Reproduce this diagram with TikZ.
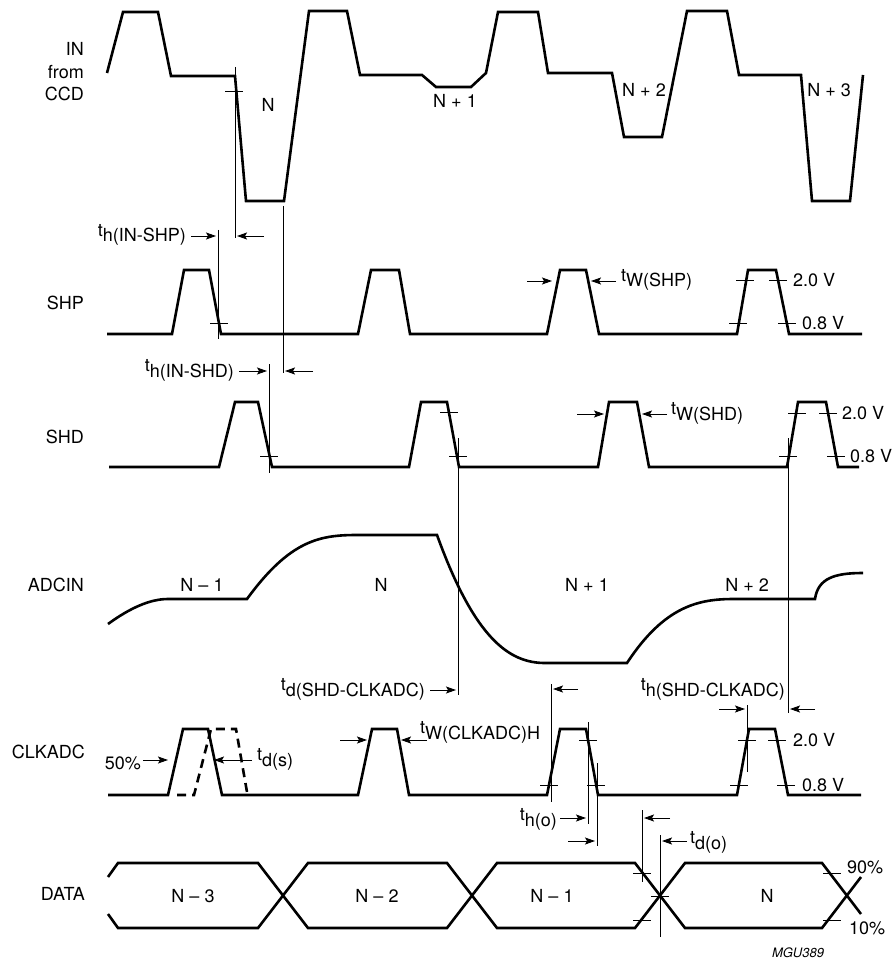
\documentclass[tikz,border=0pt]{standalone}
\usepackage{fontspec}
\setmainfont{TeX Gyre Heros}
\usetikzlibrary{arrows.meta}
\newcommand{\tlab}[1]{\raisebox{5.5pt}{t}#1}
\begin{document}
\begin{tikzpicture}
    [x=1pt,y=-1pt,
     wave/.style={line width=2.6pt,line join=miter},
     guide/.style={line width=0.8pt},
     dim/.style={->,>={Stealth[length=10pt,width=7pt,inset=2pt]},line width=0.9pt},
     every node/.style={font=\fontsize{18}{22.5}\selectfont,inner sep=0pt}]
    \useasboundingbox (0,0) rectangle (894,965);
    \node (in) [anchor=east,align=right] at (84,72) {IN\\from\\CCD};
    \node (shp) [anchor=east] at (84,303) {SHP};
    \node (shd) [anchor=east] at (84,437) {SHD};
    \node (adcin) [anchor=east] at (84,585) {ADCIN};
    \node (clk) [anchor=east] at (85,752) {CLKADC};
    \node (data) [anchor=east] at (85,894) {DATA};
    \draw [wave] (107,73) -- (123,12) -- (158,12) -- (171,76) -- (235,76) -- (246,201)
      -- (284,201) -- (309,11) -- (347,11) -- (360,75) -- (422,75) -- (436,87) -- (471,87)
      -- (486,73) -- (498,12) -- (538,12) -- (548,73) -- (612,73) -- (624,137) -- (662,137)
      -- (687,11) -- (727,11) -- (739,75) -- (801,75) -- (812,201) -- (850,201) -- (863,75);
    \draw [wave] (107,334) -- (172,334) -- (184,270) -- (209,270) -- (221,334) -- (358,334)
      -- (371,270) -- (399,270) -- (410,334) -- (547,334) -- (560,270) -- (586,270) -- (599,334)
      -- (737,334) -- (748,270) -- (776,270) -- (789,334) -- (862,334);
    \draw [wave] (109,467) -- (219,467) -- (235,402) -- (258,402) -- (272,467) -- (409,467)
      -- (421,402) -- (447,402) -- (459,467) -- (598,467) -- (609,402) -- (637,402) -- (649,467)
      -- (787,467) -- (798,402) -- (826,402) -- (838,467) -- (859,467);
    \draw [wave] (108,624) .. controls (130,608) and (150,599) .. (168,599) -- (247,599)
      .. controls (290,540) and (320,535) .. (357,535) -- (437,535)
      .. controls (475,640) and (510,663) .. (545,663) -- (627,663)
      .. controls (665,605) and (700,599) .. (734,599) -- (815,599)
      .. controls (818,578) and (835,573) .. (863,573);
    \draw [wave] (108,795) -- (168,795) -- (183,729) -- (208,729) -- (222,795) -- (358,795)
      -- (372,729) -- (397,729) -- (409,795) -- (547,795) -- (560,729) -- (586,729) -- (598,795)
      -- (737,795) -- (749,729) -- (775,729) -- (788,795) -- (861,795);
    \draw [wave,dash pattern=on 9pt off 6pt] (177,795) -- (194,795) -- (211,729) -- (236,729) -- (247,792);
    \draw [wave] (108,877) -- (118,863) -- (258,863) -- (308,928) -- (447,928) -- (497,863)
      -- (635,863) -- (685,928) -- (822,928) -- (861,877);
    \draw [wave] (108,914) -- (118,928) -- (258,928) -- (308,863) -- (447,863) -- (497,928)
      -- (635,928) -- (685,863) -- (822,863) -- (861,914);
    \node (inN) at (268,105) {N};
    \node (inN1) at (455,101) {N + 1};
    \node (inN2) at (644,90) {N + 2};
    \node (inN3) at (829,90) {N + 3};
    \node (adN0) at (202,585) {N – 1};
    \node (adN1) at (381,585) {N};
    \node (adN2) at (587,585) {N + 1};
    \node (adN3) at (747,585) {N + 2};
    \node (daN0) at (193,896) {N – 3};
    \node (daN1) at (377,896) {N – 2};
    \node (daN2) at (552,896) {N – 1};
    \node (daN3) at (767,896) {N};
    \draw [guide] (235,67) -- (235,238);
    \draw [guide] (283,206) -- (283,373);
    \draw [guide] (218,230) -- (218,339);
    \draw [guide] (269,364) -- (269,473);
    \draw [guide] (458,438) -- (458,695);
    \draw [guide] (788,438) -- (788,713);
    \draw [guide] (551,684) -- (551,802);
    \draw [guide] (747,705) -- (747,772);
    \draw [guide] (588,722) -- (588,824);
    \draw [guide] (597,763) -- (597,846);
    \draw [guide] (642,810) -- (642,882);
    \draw [guide] (660,835) -- (660,937);
    \foreach \x/\y in {234/91, 219/323, 745/280, 778/280, 738/323, 787/323,
        269/456, 449/412, 458/456, 797/413, 828/413, 788/456, 836/456,
        549/785, 588/740, 596/785, 747/740, 777/740, 739/785, 786/785,
        642/873, 642/920, 660/896, 832/873, 832/920}
      \draw [guide] (\x-9,\y) -- (\x+9,\y);
    \draw [dim] (191,236) -- (216,236);
    \draw [dim] (264,236) -- (237,236);
    \draw [dim] (239,371) -- (267,371);
    \draw [dim] (313,371) -- (285,371);
    \draw [dim] (527,281) -- (552,281);
    \draw [dim] (616,281) -- (591,281);
    \draw [dim] (577,414) -- (604,414);
    \draw [dim] (667,414) -- (642,414);
    \draw [dim] (430,690) -- (456,690);
    \draw [dim] (578,689) -- (553,689);
    \draw [dim] (719,709) -- (745,709);
    \draw [dim] (815,709) -- (790,709);
    \draw [dim] (340,740) -- (367,740);
    \draw [dim] (427,740) -- (401,740);
    \draw [dim] (143,760) -- (168,760);
    \draw [dim] (252,760) -- (214,760);
    \draw [dim] (560,818) -- (586,818);
    \draw [dim] (568,841) -- (595,841);
    \draw [dim] (670,818) -- (644,818);
    \draw [dim] (687,841) -- (662,841);
    \node (thinshp) [anchor=base east] at (186,242) {\tlab{h(IN-SHP)}};
    \node (thinshd) [anchor=base east] at (234,377) {\tlab{h(IN-SHD)}};
    \node (twshp) [anchor=base west] at (621,287) {\tlab{W(SHP)}};
    \node (twshd) [anchor=base west] at (671,420) {\tlab{W(SHD)}};
    \node (tdshdclk) [anchor=base east] at (425,696) {\tlab{d(SHD-CLKADC)}};
    \node (thshdclk) [anchor=base east] at (785,696) {\tlab{h(SHD-CLKADC)}};
    \node (twclk) [anchor=base west] at (420,739) {\tlab{W(CLKADC)H}};
    \node (tds) [anchor=base west] at (257,766) {\tlab{d(s)}};
    \node (tho) [anchor=base east] at (557,826) {\tlab{h(o)}};
    \node (tdo) [anchor=base west] at (690,849) {\tlab{d(o)}};
    \node (half) [anchor=base east] at (141,769) {50\%};
    \node (shphi) [anchor=west] at (793,280) {2.0 V};
    \node (shplo) [anchor=west] at (802,323) {0.8 V};
    \node (shdhi) [anchor=west] at (842,413) {2.0 V};
    \node (shdlo) [anchor=west] at (850,456) {0.8 V};
    \node (clkhi) [anchor=west] at (793,740) {2.0 V};
    \node (clklo) [anchor=west] at (802,785) {0.8 V};
    \node (dahi) [anchor=west] at (847,867) {90\%};
    \node (dalo) [anchor=west] at (849,928) {10\%};
    \node (code) [font=\fontsize{13}{15}\selectfont\itshape] at (798,953) {MGU389};
\end{tikzpicture}
\end{document}
